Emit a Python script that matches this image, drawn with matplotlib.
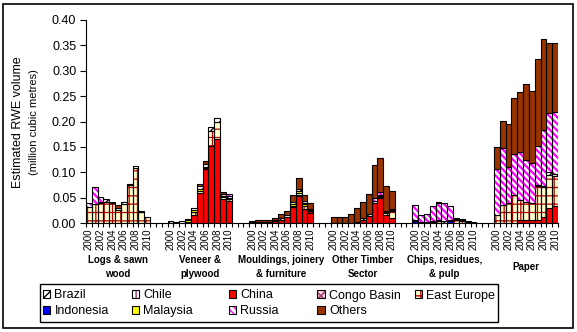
import matplotlib
matplotlib.use("Agg")
import matplotlib.pyplot as plt
import numpy as np
from matplotlib.patches import Patch, Rectangle
from matplotlib.transforms import blended_transform_factory

plt.rcParams['font.family'] = ['Liberation Sans', 'DejaVu Sans']
plt.rcParams['hatch.linewidth'] = 1.0

groups = ["Logs & sawn\nwood", "Veneer &\nplywood", "Mouldings, joinery\n& furniture",
          "Other Timber\nSector", "Chips, residues,\n& pulp", "Paper"]
years = list(range(2000, 2011))

# Estimated RWE volume (million m3); one row of 11 years per product group
china = [
    0, 0, 0, 0, 0, 0, 0, 0, 0, 0, 0,
    0, 0, 0, 0.002, 0.015, 0.060, 0.106, 0.152, 0.166, 0.047, 0.043,
    0, 0, 0, 0.001, 0.003, 0.006, 0.011, 0.032, 0.053, 0.028, 0.020,
    0, 0, 0, 0, 0, 0.006, 0.013, 0.040, 0.049, 0.016, 0.009,
    0, 0, 0, 0, 0, 0, 0, 0, 0, 0, 0,
    0, 0, 0, 0, 0.005, 0.005, 0.005, 0.005, 0.011, 0.029, 0.033,
]
indonesia = [
    0, 0, 0, 0, 0, 0, 0, 0, 0, 0, 0,
    0, 0, 0, 0, 0, 0, 0, 0, 0, 0, 0,
    0, 0, 0, 0, 0, 0, 0, 0, 0.002, 0, 0,
    0, 0, 0, 0, 0, 0, 0, 0, 0, 0, 0,
    0.004, 0, 0.001, 0.001, 0, 0, 0.003, 0, 0, 0, 0,
    0, 0, 0, 0, 0, 0, 0, 0, 0, 0, 0,
]
east_europe = [
    0.032, 0.037, 0.040, 0.041, 0.039, 0.026, 0.038, 0.075, 0.108, 0.021, 0.012,
    0, 0, 0, 0, 0.006, 0.003, 0.003, 0.029, 0.033, 0.004, 0.005,
    0, 0, 0, 0, 0.001, 0, 0, 0.002, 0.005, 0.006, 0.004,
    0, 0, 0, 0, 0, 0, 0, 0, 0.002, 0.004, 0.015,
    0, 0, 0, 0, 0.003, 0, 0, 0.006, 0.004, 0.002, 0,
    0.016, 0.035, 0.039, 0.056, 0.040, 0.036, 0.034, 0.067, 0.059, 0.066, 0.060,
]
malaysia = [
    0, 0, 0, 0, 0, 0, 0, 0, 0, 0, 0,
    0, 0, 0, 0.003, 0.004, 0.004, 0.002, 0, 0, 0.003, 0.002,
    0, 0, 0, 0, 0, 0, 0, 0.004, 0.004, 0.003, 0.002,
    0, 0, 0, 0, 0, 0, 0, 0, 0.003, 0.002, 0,
    0, 0, 0, 0, 0, 0, 0, 0, 0, 0, 0,
    0, 0, 0, 0, 0, 0, 0, 0, 0, 0, 0,
]
chile = [0] * 66
congo_basin = [0] * 66
brazil = [
    0, 0, 0.002, 0.006, 0.003, 0.003, 0.003, 0.002, 0.005, 0.003, 0,
    0.003, 0.002, 0.004, 0.002, 0.004, 0.005, 0.005, 0.008, 0.008, 0.003, 0.004,
    0.002, 0.001, 0.001, 0.001, 0.001, 0.004, 0.004, 0.003, 0.003, 0.003, 0.002,
    0, 0, 0, 0, 0.001, 0.004, 0.004, 0.004, 0.002, 0.002, 0.002,
    0.002, 0.001, 0, 0.002, 0.003, 0.003, 0.002, 0.001, 0.001, 0.001, 0.001,
    0, 0, 0, 0, 0, 0, 0, 0.003, 0.002, 0.005, 0.004,
]
russia = [
    0.008, 0.033, 0.009, 0, 0, 0, 0, 0, 0, 0, 0,
    0, 0, 0, 0, 0, 0, 0, 0, 0, 0, 0.003,
    0, 0, 0, 0, 0, 0, 0, 0, 0, 0.003, 0,
    0, 0, 0, 0, 0, 0, 0, 0.006, 0.006, 0, 0.002,
    0.029, 0.014, 0.016, 0.031, 0.033, 0.037, 0.028, 0.003, 0.002, 0, 0,
    0.090, 0.112, 0.072, 0.080, 0.094, 0.084, 0.079, 0.077, 0.111, 0.116, 0.122,
]
others = [
    0, 0, 0, 0, 0, 0.007, 0, 0, 0, 0, 0,
    0, 0, 0, 0, 0, 0.005, 0.006, 0, 0, 0.004, 0,
    0.002, 0.004, 0.004, 0.004, 0.004, 0.008, 0.009, 0.014, 0.021, 0.012, 0.012,
    0.011, 0.011, 0.011, 0.017, 0.028, 0.031, 0.041, 0.064, 0.067, 0.048, 0.036,
    0, 0, 0, 0, 0.002, 0, 0, 0, 0, 0, 0,
    0.043, 0.054, 0.085, 0.110, 0.119, 0.149, 0.143, 0.171, 0.179, 0.138, 0.135,
]

# name, values, facecolor, hatch, hatch colour, hatch width  (stacked bottom -> top)
series = [
    ("China", china, "#FF0000", "", "#FF0000", 1.0),
    ("Indonesia", indonesia, "#0000FF", "", "#0000FF", 1.0),
    ("East Europe", east_europe, "#FFFFCC", "++", "#B00000", 0.9),
    ("Malaysia", malaysia, "#FFFF00", "", "#FFFF00", 1.0),
    ("Chile", chile, "#FFFFFF", "|||", "#993366", 1.0),
    ("Congo Basin", congo_basin, "#FFCCE5", "xxxx", "#993366", 0.8),
    ("Brazil", brazil, "#FFFFFF", "////", "#000000", 1.0),
    ("Russia", russia, "#FFFFFF", "\\\\\\\\\\", "#FF00FF", 1.6),
    ("Others", others, "#993300", "", "#993300", 1.0),
]

n_year = len(years)
gap = 3
x = np.array([g * (n_year + gap) + i for g in range(len(groups)) for i in range(n_year)], dtype=float)
n_cat = len(groups) * n_year + (len(groups) - 1) * gap

W, H = 577, 332
fig = plt.figure(figsize=(W / 100, H / 100), dpi=100)
ax = fig.add_axes([86 / W, 1 - 223 / H, (558 - 86) / W, (223 - 20) / H])


def use_hatch_width(artist, lw):
    """Draw this artist with its own hatch line width."""
    if hasattr(artist, "set_hatch_linewidth"):
        artist.set_hatch_linewidth(lw)
    base_draw = artist.draw

    def draw(renderer, *args, **kwargs):
        with plt.rc_context({"hatch.linewidth": lw}):
            return base_draw(renderer, *args, **kwargs)

    artist.draw = draw


bottom = np.zeros(len(x))
for name, vals, fc, hatch, hc, hw in series:
    v = np.array(vals, dtype=float)
    m = v > 0
    if m.any():
        with plt.rc_context({"hatch.linewidth": hw}):
            bars = ax.bar(x[m], v[m], bottom=bottom[m], width=1.0, facecolor=fc,
                          hatch=hatch or None, edgecolor=hc, linewidth=0)
        for p in bars:
            use_hatch_width(p, hw)
        ax.bar(x[m], v[m], bottom=bottom[m], width=1.0, fill=False,
               edgecolor="black", linewidth=0.8)
    bottom += v

ax.set_xlim(-0.5, n_cat - 0.5)
ax.set_ylim(0, 0.40)
ax.set_yticks(np.arange(0, 0.401, 0.05))
ax.set_yticklabels([f"{t:.2f}" for t in np.arange(0, 0.401, 0.05)], fontsize=9)
ax.tick_params(axis="y", direction="out", length=4, width=0.8, pad=3)

for s in ("top", "right"):
    ax.spines[s].set_visible(False)
for s in ("left", "bottom"):
    ax.spines[s].set_linewidth(0.8)

# year labels on every other category, tick marks on category boundaries
lab_pos = [x[g * n_year + i] for g in range(len(groups)) for i in range(0, n_year, 2)]
lab_txt = [str(years[i]) for g in range(len(groups)) for i in range(0, n_year, 2)]
ax.set_xticks(lab_pos)
ax.set_xticklabels(lab_txt, rotation=90, fontsize=7)
ax.tick_params(axis="x", which="major", length=0, pad=4)
ax.set_xticks(np.arange(-0.5, n_cat, 1.0), minor=True)
ax.tick_params(axis="x", which="minor", direction="out", length=3, width=0.8)

# group names below the years
tr = blended_transform_factory(ax.transData, fig.transFigure)
for g, name in enumerate(groups):
    cx = g * (n_year + gap) + (n_year - 1) / 2
    ax.text(cx, 1 - 267 / H, name, transform=tr, ha="center", va="center",
            fontsize=7, fontweight="bold", linespacing=1.55)

fig.text(18 / W, 1 - 122 / H, "Estimated RWE volume", rotation=90,
         ha="center", va="center", fontsize=9)
fig.text(34 / W, 1 - 122 / H, "(million cubic metres)", rotation=90,
         ha="center", va="center", fontsize=8)

# legend: five columns laid out in a shared frame
style = {name: (fc, hatch, hc, hw) for name, _, fc, hatch, hc, hw in series}


def handle(name):
    fc, hatch, hc, hw = style[name]
    face = Patch(facecolor=fc, hatch=hatch or None, edgecolor=hc, linewidth=0)
    edge = Patch(fill=False, edgecolor="black", linewidth=0.8)
    return (face, edge)


legend_cols = [["Brazil", "Indonesia"], ["Chile", "Malaysia"], ["China", "Russia"],
               ["Congo Basin", "Others"], ["East Europe"]]
col_x = [44, 133, 230, 319, 416]
for names, cx in zip(legend_cols, col_x):
    fig.legend([handle(n) for n in names], names, loc="upper left",
               bbox_to_anchor=((cx - 4) / W, 1 - 287 / H), frameon=False,
               fontsize=9, handlelength=0.6, handleheight=0.6, handletextpad=0.35,
               labelspacing=0.3, borderpad=0.2, borderaxespad=0)

fig.patches.append(Rectangle((40 / W, 1 - 322 / H), (498 - 40) / W, (322 - 284) / H,
                             transform=fig.transFigure, fill=False,
                             edgecolor="black", linewidth=1.0))
fig.patches.append(Rectangle((3 / W, 1 - 328 / H), (573 - 3) / W, (328 - 4) / H,
                             transform=fig.transFigure, fill=False,
                             edgecolor="black", linewidth=1.2))

fig.savefig("out.png", dpi=100)
